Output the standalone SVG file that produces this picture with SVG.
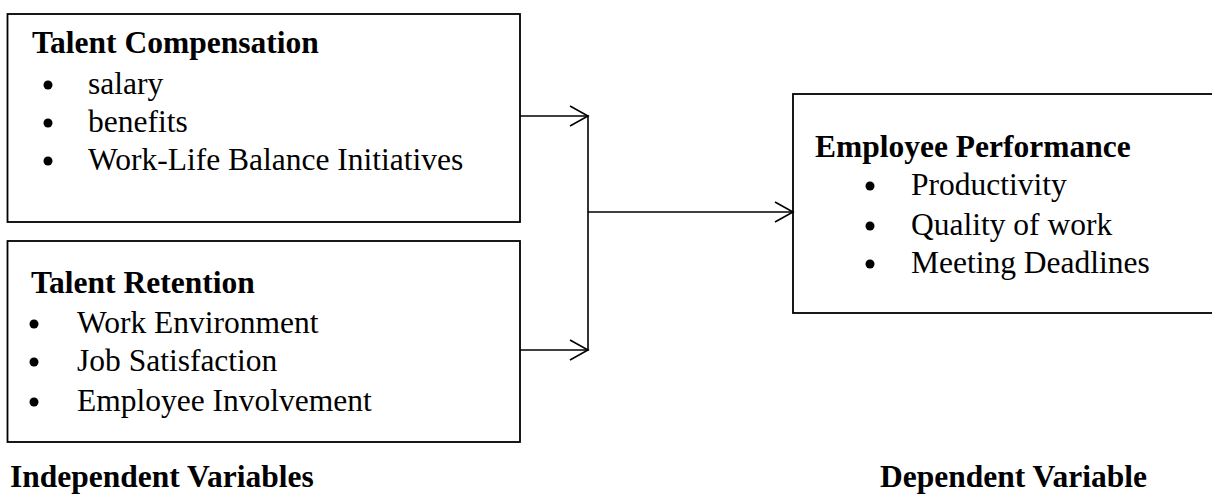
<svg xmlns="http://www.w3.org/2000/svg" width="1212" height="494" viewBox="0 0 1212 494">
<style>
.box{fill:#fff;stroke:#000;stroke-width:1.8}
.t{font-family:"Liberation Serif","Times New Roman",serif;font-size:31.5px;fill:#000}
.b{font-weight:bold}
.conn{fill:none;stroke:#000;stroke-width:1.6}
.dot{fill:#000}
</style>
<defs>
<marker id="arr" markerUnits="userSpaceOnUse" markerWidth="24" markerHeight="24" refX="20" refY="12" orient="auto" viewBox="0 0 24 24">
<path d="M2,2 L20,12 L2,22" fill="none" stroke="#000" stroke-width="1.6"/>
</marker>
</defs>
<rect width="1212" height="494" fill="#fff"/>
<g id="talent-compensation">
<rect class="box" x="7.5" y="14" width="512.5" height="208"/>
<text class="t b" x="32" y="53">Talent Compensation</text>
<circle class="dot" cx="48" cy="85" r="4.5"/><text class="t" x="88" y="94">salary</text>
<circle class="dot" cx="48" cy="123" r="4.5"/><text class="t" x="88" y="132">benefits</text>
<circle class="dot" cx="48" cy="161" r="4.5"/><text class="t" x="88" y="170">Work-Life Balance Initiatives</text>
</g>
<g id="talent-retention">
<rect class="box" x="7.5" y="241" width="512.5" height="201"/>
<text class="t b" x="31" y="293">Talent Retention</text>
<circle class="dot" cx="34" cy="324" r="4.5"/><text class="t" x="77" y="333">Work Environment</text>
<circle class="dot" cx="34" cy="362" r="4.5"/><text class="t" x="77" y="371">Job Satisfaction</text>
<circle class="dot" cx="34" cy="402" r="4.5"/><text class="t" x="77" y="411">Employee Involvement</text>
</g>
<g id="employee-performance">
<rect class="box" x="793" y="94" width="430" height="219"/>
<text class="t b" x="815" y="157">Employee Performance</text>
<circle class="dot" cx="870" cy="186" r="4.5"/><text class="t" x="911" y="195">Productivity</text>
<circle class="dot" cx="870" cy="226" r="4.5"/><text class="t" x="911" y="235">Quality of work</text>
<circle class="dot" cx="870" cy="264" r="4.5"/><text class="t" x="911" y="273">Meeting Deadlines</text>
</g>
<g id="connectors">
<line class="conn" x1="520" y1="116" x2="588" y2="116" marker-end="url(#arr)"/>
<line class="conn" x1="520" y1="350" x2="588" y2="350" marker-end="url(#arr)"/>
<line class="conn" x1="588" y1="115.2" x2="588" y2="350.8"/>
<line class="conn" x1="588" y1="212" x2="793" y2="212" marker-end="url(#arr)"/>
</g>
<g id="labels">
<text class="t b" x="10" y="487">Independent Variables</text>
<text class="t b" x="880" y="487">Dependent Variable</text>
</g>
</svg>
